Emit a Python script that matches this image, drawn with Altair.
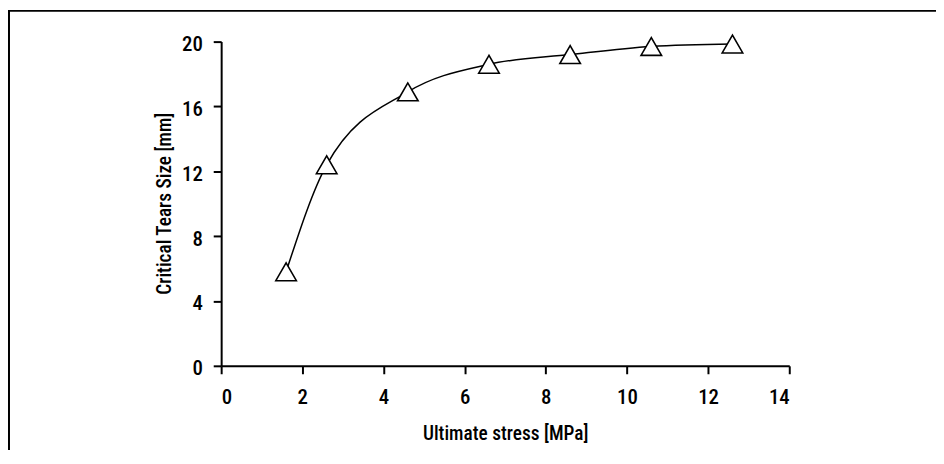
import altair as alt
import pandas as pd

stress = [1.6, 2.6, 4.6, 6.6, 8.6, 10.6, 12.6]
tear_size = [5.8, 12.4, 16.9, 18.6, 19.2, 19.7, 19.85]
x_ticks = [0, 2, 4, 6, 8, 10, 12, 14]
y_ticks = [0, 4, 8, 12, 16, 20]

df = pd.DataFrame({"stress": stress, "size": tear_size})

FONT = "Roboto Condensed"
WEIGHT = 500

x_enc = alt.X(
    "stress:Q",
    scale=alt.Scale(domain=[0, 14], nice=False, zero=False),
    axis=alt.Axis(
        values=x_ticks, title="Ultimate stress [MPa]", grid=False,
        domainColor="black", domainWidth=2, tickColor="black", tickWidth=2,
        tickSize=8, labelPadding=13, labelFontSize=21, labelColor="black",
        labelFont=FONT, labelFontWeight=WEIGHT, titleFont=FONT, titleFontSize=19.5,
        titleFontWeight=WEIGHT, titleColor="black",
        titleBaseline="alphabetic", titleY=74,
    ),
)
y_enc = alt.Y(
    "size:Q",
    scale=alt.Scale(domain=[0, 20], nice=False),
    axis=alt.Axis(
        values=y_ticks, title="Critical Tears Size [mm]", grid=False,
        domainColor="black", domainWidth=2, tickColor="black", tickWidth=2,
        tickSize=8, labelPadding=11, labelFontSize=21, labelColor="black",
        labelOffset=3,
        labelFont=FONT, labelFontWeight=WEIGHT, titleFont=FONT, titleFontSize=19.5,
        titleFontWeight=WEIGHT, titleColor="black",
        titleAngle=-90, titleBaseline="alphabetic", titleX=-51, titleY=163,
        titleAlign="center",
    ),
)

line = alt.Chart(df).mark_line(
    interpolate="monotone", color="black", strokeWidth=1.5
).encode(x=x_enc, y=y_enc)

pts = alt.Chart(df).mark_point(
    shape="triangle-up", size=430, filled=True, fill="white",
    stroke="black", strokeWidth=1.6, opacity=1
).encode(x="stress:Q", y="size:Q")

border = alt.Chart(pd.DataFrame({"k": [0]})).mark_rect(
    fill=None, stroke="black", strokeWidth=2, clip=False
).encode(
    x=alt.value(-214), x2=alt.value(1000),
    y=alt.value(-31), y2=alt.value(1000),
)

chart = alt.layer(line, pts, border).properties(
    width=573, height=327,
    autosize=alt.AutoSizeParams(type="none"),
    padding={"left": 215, "top": 32, "right": 148, "bottom": 83},
).configure_view(stroke=None)

chart.save("out.html", embed_options={"renderer": "svg", "actions": False})
